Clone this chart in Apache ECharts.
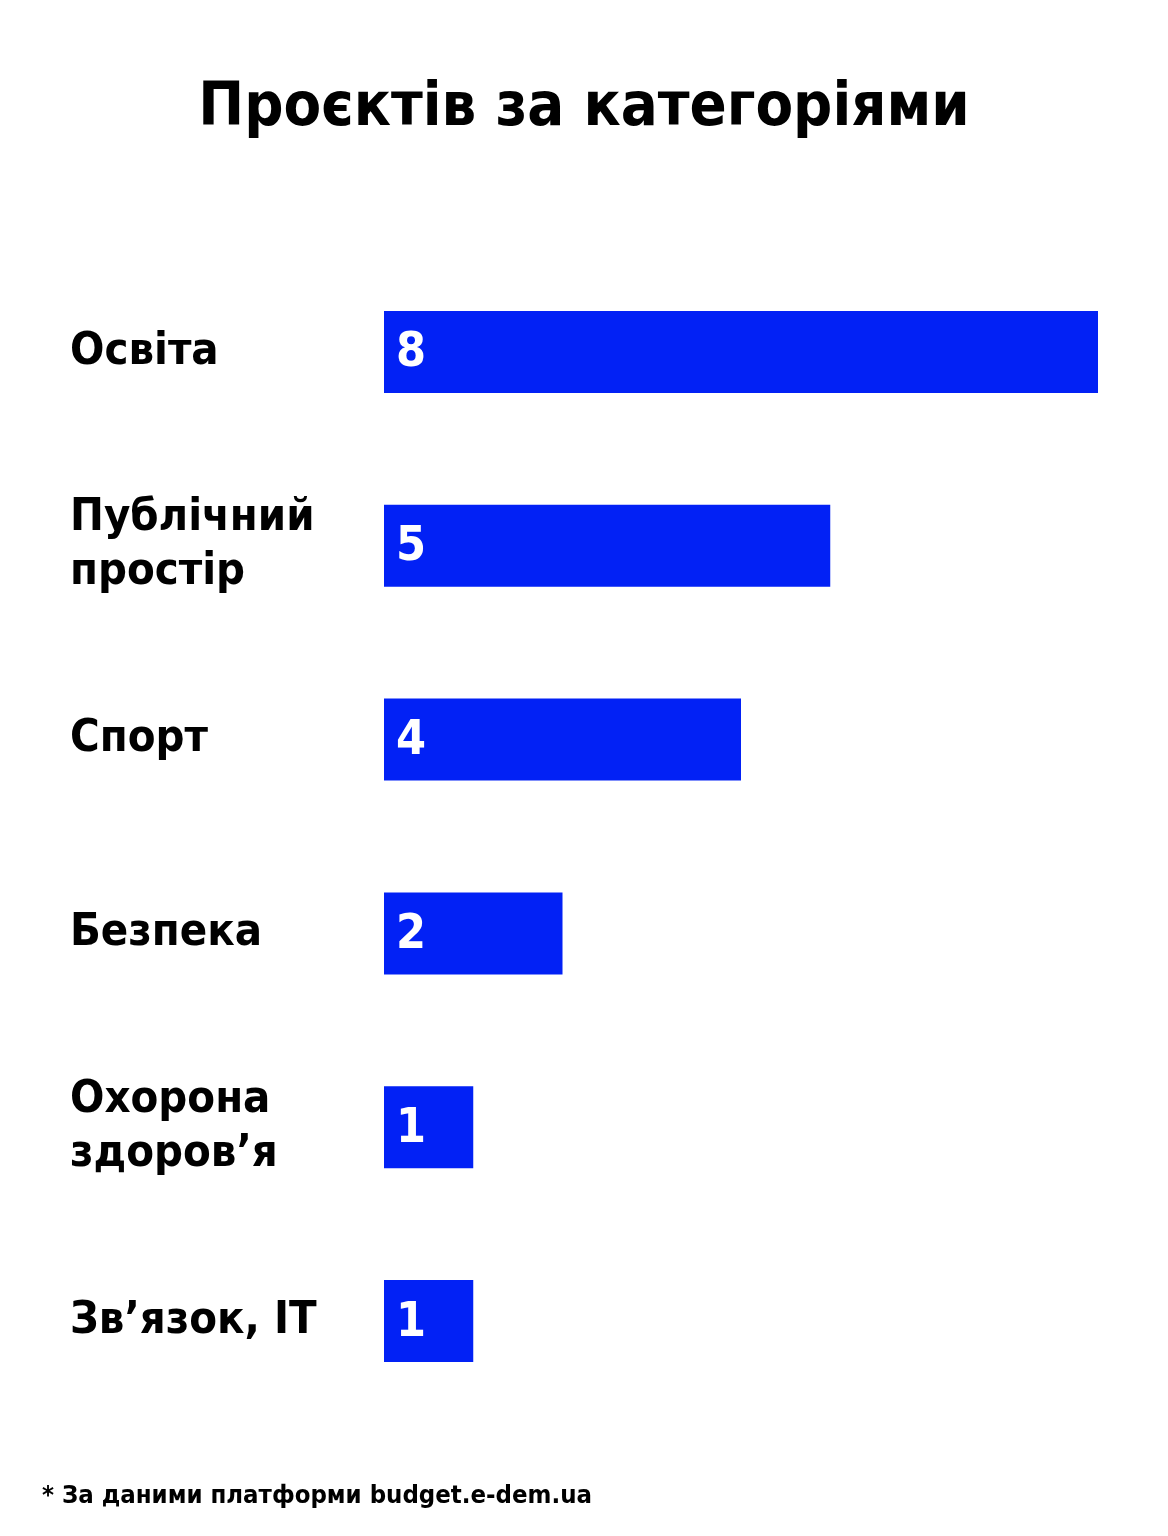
<!DOCTYPE html>
<html><head><meta charset="utf-8">
<script src="https://cdn.jsdelivr.net/npm/echarts@6/dist/echarts.min.js"></script>
<style>html,body{margin:0;padding:0;background:#fff}#c{width:1168px;height:1536px}</style>
</head><body><div id="c"></div>
<script>
const categories = ['Освіта', 'Публічний\nпростір', 'Спорт', 'Безпека', 'Охорона\nздоров’я', 'Зв’язок, IT'];
const values = [8, 5, 4, 2, 1, 1];
const titleText = 'Проєктів за категоріями';
const noteText = '* За даними платформи budget.e-dem.ua';

const FONT = "'DejaVu Sans Condensed', 'DejaVu Sans', sans-serif";
const chart = echarts.init(document.getElementById('c'));
chart.setOption({
  backgroundColor: '#ffffff',
  title: [{
    text: titleText, left: 'center', top: 74,
    textStyle: { fontFamily: FONT, fontWeight: 'bold', fontSize: 61, color: '#000' }
  }, {
    text: noteText, left: 37, top: 1478,
    textStyle: { fontFamily: FONT, fontWeight: 'bold', fontSize: 25.5, color: '#000' }
  }],
  grid: { left: 384, right: 70, top: 255, bottom: 118 },
  xAxis: { type: 'value', min: 0, max: 8, show: false },
  yAxis: {
    type: 'category', data: categories, inverse: true,
    axisLine: { show: false }, axisTick: { show: false },
    axisLabel: {
      align: 'left', margin: 314, fontFamily: FONT, fontWeight: 'bold',
      fontSize: 45, lineHeight: 54, color: '#000'
    }
  },
  series: [{
    type: 'bar', data: values, barWidth: 82,
    itemStyle: { color: '#0221f5' },
    label: {
      show: true, position: 'insideLeft', distance: 12, offset: [0, 2],
      fontFamily: FONT, fontWeight: 'bold', fontSize: 48, color: '#fff'
    }
  }]
});
</script></body></html>
